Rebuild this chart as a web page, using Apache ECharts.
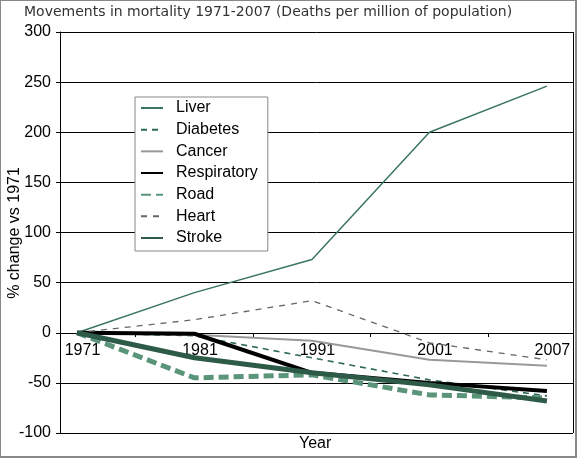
<!DOCTYPE html>
<html><head><meta charset="utf-8">
<script src="https://cdn.jsdelivr.net/npm/echarts@6/dist/echarts.min.js"></script>
<style>html,body{margin:0;padding:0;background:#fff}#c{width:577px;height:458px}</style>
</head><body><div id="c"></div>
<script>
const years = ['1971','1981','1991','2001','2007'];
const yTicks = [-100,-50,0,50,100,150,200,250,300];
const liver = [0,40,73,200,246];
const diabetes = [0,-3,-25,-47,-63];
const cancer = [0,-2,-8,-27,-33];
const respiratory = [0,-1,-40,-50,-58];
const road = [0,-45,-42,-62,-65];
const heart = [0,13,32,-10,-27];
const stroke = [0,-25,-40,-52,-68];

const F = 'Liberation Sans, Arial, sans-serif';
function pts(arr){return arr.map((v,i)=>[i,v]);}
function ser(name,data,color,width,type){
  return {name:name,type:'line',data:pts(data),symbol:'none',
    lineStyle:{color:color,width:width,type:type||'solid'},itemStyle:{color:color},
    emphasis:{disabled:true}};
}
const chart = echarts.init(document.getElementById('c'));
chart.setOption({
  animation:false,
  title:{text:'Movements in mortality 1971-2007 (Deaths per million of population)',left:19,top:0,
    textStyle:{fontFamily:'DejaVu Sans, Verdana, sans-serif',fontSize:14,fontWeight:'normal',color:'#333'}},
  grid:{left:60,right:4,top:32,bottom:25,outerBoundsMode:'none',containLabel:false},
  legend:{orient:'vertical',left:135,top:97,padding:[3,10,5,5],itemGap:5.67,itemWidth:22,itemHeight:14,
    backgroundColor:'#fff',borderColor:'#888',borderWidth:1,
    itemStyle:{opacity:0},
    textStyle:{fontFamily:F,fontSize:16,lineHeight:16,color:'#000',padding:[0,0,0,8]},
    data:['Liver','Diabetes','Cancer','Respiratory','Road','Heart','Stroke']},
  xAxis:{type:'value',min:-0.1447,max:4.222,position:'bottom',offset:-100,
    axisLine:{onZero:false,lineStyle:{color:'#000',width:1}},
    axisTick:{show:true,length:4,customValues:[0.5,1.5,2.5,3.5],lineStyle:{color:'#000'}},
    axisLabel:{customValues:[0,1,2,3,4],formatter:v=>years[Math.round(v)],margin:10,padding:[0,0,0,11],
      fontFamily:F,fontSize:16,color:'#000'},
    splitLine:{show:false}},
  yAxis:{type:'value',min:-100,max:300,interval:50,
    axisLine:{show:true,onZero:false,lineStyle:{color:'#000'}},
    axisTick:{show:true,length:4,lineStyle:{color:'#000'}},
    axisLabel:{fontFamily:F,fontSize:16,color:'#000',margin:9,formatter:v=>yTicks.includes(v)?String(v):''},
    splitLine:{show:true,lineStyle:{color:'#000',width:1}}},
  graphic:[
    {type:'rect',shape:{x:0,y:0,width:576,height:457},style:{fill:'none',stroke:'#888',lineWidth:2},silent:true},
    {type:'line',shape:{x1:573.5,y1:32,x2:573.5,y2:433},style:{stroke:'#000',lineWidth:1},silent:true},
    {type:'text',left:299,top:436,style:{text:'Year',fontFamily:F,fontSize:16,fill:'#000'},silent:true},
    {type:'text',x:15,y:233,rotation:Math.PI/2,
      style:{text:'% change vs 1971',fontFamily:F,fontSize:16,fill:'#000',align:'center',verticalAlign:'middle'},silent:true}
  ],
  series:[
    ser('Liver',liver,'#3a7560',1.5),
    ser('Diabetes',diabetes,'#2f6a56',1.6,[6,5]),
    ser('Cancer',cancer,'#999999',2),
    ser('Respiratory',respiratory,'#000000',4),
    ser('Road',road,'#5a9479',5,[10,5]),
    ser('Heart',heart,'#666666',1.3,[6,6]),
    ser('Stroke',stroke,'#2e5a48',5)
  ]
});
</script></body></html>
